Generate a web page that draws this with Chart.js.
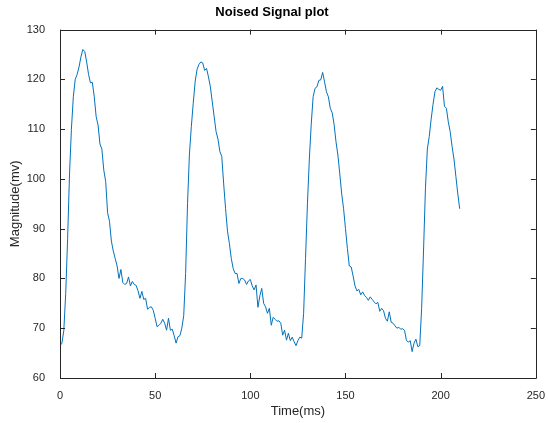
<!DOCTYPE html>
<html>
<head>
<meta charset="utf-8">
<script src="https://cdn.jsdelivr.net/npm/chart.js@4.4.1/dist/chart.umd.min.js"></script>
<style>
  html, body { margin: 0; padding: 0; background: #fff; }
  #wrap { width: 548px; height: 423px; }
</style>
</head>
<body>
<div id="wrap"><canvas id="sigChart" width="548" height="423"></canvas></div>
<script>
// sampled every 1 ms, starting at 0 ms
var startMs = 0;
var stepMs = 1;
var magnitude = [
  66.5, 67, 69.5, 77, 88, 101, 110, 116.5, 120, 121, 122.5, 124.5, 126, 125.6, 123.5, 121,
  119.3, 119.4, 116.5, 112.5, 110.8, 107, 106, 101.8, 99.5, 93.2, 91.5, 87.5, 85.5, 84, 82.5, 80,
  81.8, 79.2, 78.8, 79, 80.3, 78.5, 79.4, 78.8, 78.6, 77.5, 76, 77.4, 75.8, 76, 73.8, 74.2,
  74.3, 73.6, 72, 70.3, 70.6, 71, 71.8, 71, 69.6, 72, 69.6, 69.8, 68.5, 67, 68.3, 68.5,
  70, 72.5, 81, 95, 105, 110.5, 115.2, 119.5, 122, 123, 123.5, 123.3, 121.8, 122.2, 120.5, 118.5,
  115.5, 112.5, 109.5, 108, 105.5, 104.5, 99, 94, 89.5, 87, 84, 82, 81, 81, 79, 80,
  80, 79.7, 78.8, 79.5, 79.8, 78.5, 77.7, 78.7, 74.2, 76.5, 78, 75, 74.3, 73, 74, 70.6,
  72.2, 71.8, 71.4, 71.5, 71, 68.6, 69.6, 67.6, 69, 67.5, 68.2, 67.3, 66.5, 67.5, 68.2, 68,
  73, 84, 95, 104, 111, 116.5, 118.2, 118.5, 119.8, 119.9, 121.4, 119.5, 117.5, 116.5, 114.2, 113.3,
  111, 107.5, 104.8, 101, 97, 94, 90, 86, 82.5, 82.3, 80.5, 78.5, 77.5, 77.8, 76.7, 77.3,
  76.6, 76.2, 75.6, 76.3, 75.8, 75.3, 74.9, 75.2, 73.4, 74, 73.5, 72, 71.4, 73.3, 71.2, 71,
  70.5, 70, 70.2, 69.8, 69.9, 69.6, 67.6, 67.2, 67.5, 65.3, 67, 67.8, 66.3, 66.5, 74, 85.5,
  98, 106, 108.5, 112, 115, 117.5, 118.3, 118, 117.8, 118.6, 114.6, 114.2, 111.5, 109.5, 106.5, 104,
  100.5, 97, 94
];
var xTicks = [0, 50, 100, 150, 200, 250];
var yTicks = [60, 70, 80, 90, 100, 110, 120, 130];

var points = [];
for (var i = 0; i < magnitude.length; i++) {
  points.push({ x: startMs + i * stepMs, y: magnitude[i] });
}

var axisColor = '#262626';
var fontFam = '"Liberation Sans", Arial, Helvetica, sans-serif';

// matlab style box with inward ticks on all four sides
var boxPlugin = {
  id: 'boxPlugin',
  afterDraw: function(chart) {
    var ctx = chart.ctx, a = chart.chartArea;
    var sx = chart.scales.x, sy = chart.scales.y;
    ctx.save();
    ctx.strokeStyle = axisColor;
    ctx.lineWidth = 1;
    ctx.beginPath();
    ctx.rect(Math.round(a.left) + 0.5, Math.round(a.top) + 0.5,
             Math.round(a.right - a.left), Math.round(a.bottom - a.top));
    xTicks.forEach(function(v) {
      var px = Math.round(sx.getPixelForValue(v)) + 0.5;
      ctx.moveTo(px, a.bottom); ctx.lineTo(px, a.bottom - 5);
      ctx.moveTo(px, a.top); ctx.lineTo(px, a.top + 5);
    });
    yTicks.forEach(function(v) {
      var py = Math.round(sy.getPixelForValue(v)) + 0.5;
      ctx.moveTo(a.left, py); ctx.lineTo(a.left + 5, py);
      ctx.moveTo(a.right, py); ctx.lineTo(a.right - 5, py);
    });
    ctx.stroke();
    ctx.restore();
  }
};

var chartJs = new Chart(document.getElementById('sigChart'), {
  type: 'line',
  data: {
    datasets: [{
      label: 'Noised Signal',
      data: points,
      borderColor: '#0072BD',
      borderWidth: 1,
      pointRadius: 0,
      tension: 0,
      fill: false
    }]
  },
  options: {
    responsive: false,
    animation: false,
    layout: { padding: { left: 0, right: 4, top: 0, bottom: 0 } },
    plugins: {
      legend: { display: false },
      tooltip: { enabled: false },
      title: {
        display: true,
        text: 'Noised Signal plot',
        color: '#000',
        font: { family: fontFam, size: 13, weight: 'bold' },
        padding: { top: 5, bottom: 9 }
      }
    },
    scales: {
      x: {
        type: 'linear',
        min: 0, max: 250,
        grid: { display: false },
        border: { display: false },
        afterBuildTicks: function(s) { s.ticks = xTicks.map(function(v) { return { value: v }; }); },
        afterFit: function(s) { s.height = 45; },
        ticks: { color: axisColor, font: { family: fontFam, size: 11 }, padding: 3, maxRotation: 0 },
        title: { display: true, text: 'Time(ms)', color: axisColor, font: { family: fontFam, size: 13 }, padding: { top: 6 } }
      },
      y: {
        type: 'linear',
        min: 60, max: 130,
        grid: { display: false },
        border: { display: false },
        afterBuildTicks: function(s) { s.ticks = yTicks.map(function(v) { return { value: v }; }); },
        afterFit: function(s) { s.width = 60; },
        ticks: { color: axisColor, font: { family: fontFam, size: 11 }, padding: 7 },
        title: { display: true, text: 'Magnitude(mv)', color: axisColor, font: { family: fontFam, size: 13 }, padding: { top: 8, bottom: 2 } }
      }
    }
  },
  plugins: [boxPlugin]
});
</script>
</body>
</html>
